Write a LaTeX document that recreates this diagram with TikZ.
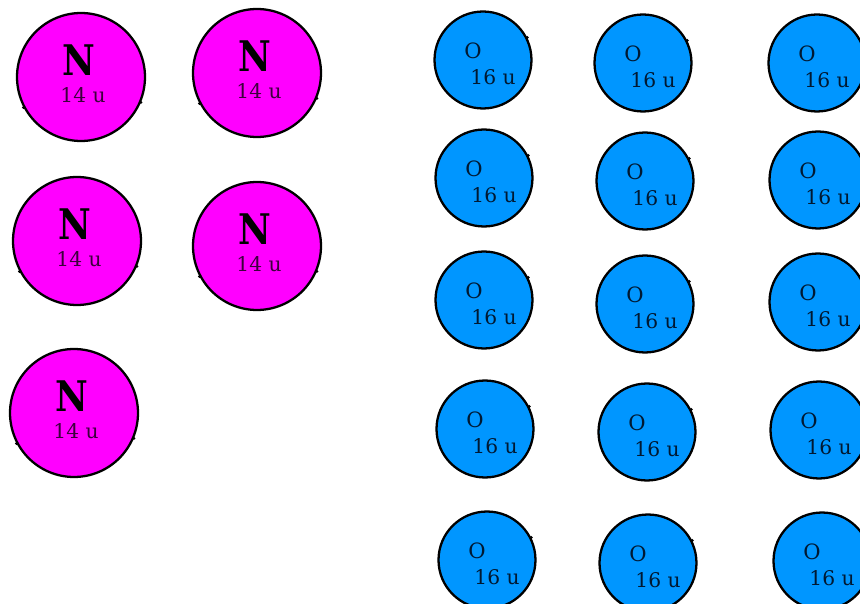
\documentclass[tikz,border=0pt]{standalone}
\usepackage{fontspec}
\setmainfont{DejaVu Serif}
\definecolor{nitro}{RGB}{255,0,255}
\definecolor{oxy}{RGB}{0,150,255}
\definecolor{nink}{RGB}{60,0,60}
\definecolor{oink}{RGB}{0,25,50}
\newcommand{\nsign}{\scalebox{0.85}[1]{N}}
\tikzset{
	natom/.style={circle,draw=black,fill=nitro,line width=1.3pt,inner sep=0pt,minimum size=2.56cm},
	oatom/.style={circle,draw=black,fill=oxy,line width=1.3pt,inner sep=0pt,minimum size=1.94cm},
	nsym/.style={inner sep=0pt,font=\fontsize{24}{24}\selectfont\bfseries},
	nmass/.style={inner sep=0pt,text=nink,font=\fontsize{11.5}{11.5}\selectfont},
	osym/.style={inner sep=0pt,text=oink,font=\fontsize{12}{12}\selectfont},
	omass/.style={inner sep=0pt,text=oink,font=\fontsize{11.5}{11.5}\selectfont}
}

\begin{document}
\begin{tikzpicture}[x=0.02cm,y=-0.02cm]
	\useasboundingbox (0,0) rectangle (860,604);
	\clip (0,0) rectangle (860,604);
	% nitrogen atoms
	\foreach \x/\y [count=\k] in {81/77,257/73,77/241,257/246,74/413}{
		\node[natom] (n\k) at (\x,\y) {};
		\node[nsym] (n\k-s) at ([shift={(-2,-17)}]n\k.center) {\nsign};
		\node[nmass] (n\k-m) at ([shift={(2,18)}]n\k.center) {14 u};
		\fill (n\k.208) circle (1.6);
		\fill (n\k.337) circle (1.6);
	}
	% oxygen atoms
	\foreach \x/\y [count=\k] in {483/60,643/63,817/63,
		484/178,645/181,818/180,
		484/300,645/304,818/302,
		485/429,647/432,819/430,
		487/560,648/563,822/561}{
		\node[oatom] (o\k) at (\x,\y) {};
		\node[osym] (o\k-s) at ([shift={(-10,-9)}]o\k.center) {O};
		\node[omass] (o\k-m) at ([shift={(10,17)}]o\k.center) {16 u};
		\fill (o\k.27) circle (1.6);
	}
\end{tikzpicture}
\end{document}
